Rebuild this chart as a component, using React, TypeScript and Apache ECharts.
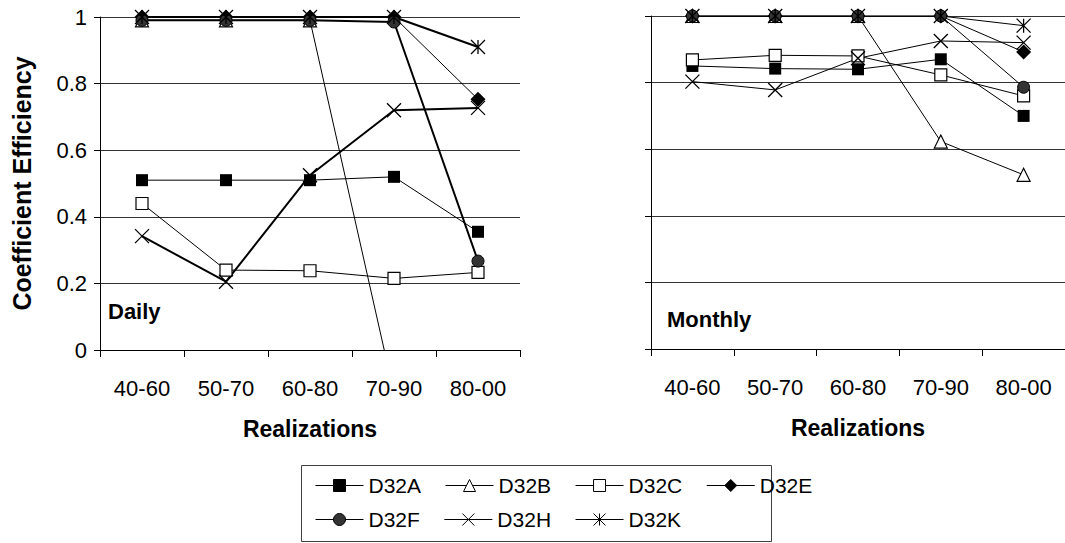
import React, { useEffect, useRef } from 'react';
import * as echarts from 'echarts';

// ---------- data ----------
const categories = ['40-60', '50-70', '60-80', '70-90', '80-00'];
const seriesNames = ['D32A', 'D32B', 'D32C', 'D32E', 'D32F', 'D32H', 'D32K'];

// Daily panel
const dailyD32A = [0.51, 0.51, 0.51, 0.52, 0.355];
const dailyD32B = [0.99, 0.99, 0.99, -0.13, null];
const dailyD32C = [0.44, 0.24, 0.238, 0.215, 0.233];
const dailyD32E = [1, 1, 1, 1, 0.753];
const dailyD32F = [0.99, 0.99, 0.99, 0.985, 0.267];
const dailyD32H = [0.342, 0.205, 0.525, 0.72, 0.727];
const dailyD32K = [1, 1, 1, 1, 0.91];

// Monthly panel
const monthlyD32A = [0.85, 0.842, 0.84, 0.87, 0.7];
const monthlyD32B = [1, 1, 1, 0.623, 0.523];
const monthlyD32C = [0.868, 0.882, 0.88, 0.823, 0.76];
const monthlyD32E = [1, 1, 1, 1, 0.892];
const monthlyD32F = [1, 1, 1, 1, 0.786];
const monthlyD32H = [0.803, 0.778, 0.873, 0.925, 0.92];
const monthlyD32K = [1, 1, 1, 1, 0.971];

const dailyData = [dailyD32A, dailyD32B, dailyD32C, dailyD32E, dailyD32F, dailyD32H, dailyD32K];
const monthlyData = [monthlyD32A, monthlyD32B, monthlyD32C, monthlyD32E, monthlyD32F, monthlyD32H, monthlyD32K];

// ---------- styles ----------
const FONT = "'Liberation Sans', Arial, Helvetica, sans-serif";
const X_PATH = 'path://M0,0L10,10M10,0L0,10';
const STAR_PATH = 'path://M0,0L10,10M10,0L0,10M5,0L5,10';

const markerStyles: Record<string, any> = {
  D32A: { symbol: 'rect', symbolSize: 12, itemStyle: { color: '#000', borderColor: '#000', borderWidth: 0 } },
  D32B: { symbol: 'triangle', symbolSize: 13, itemStyle: { color: '#fff', borderColor: '#000', borderWidth: 1.2 } },
  D32C: { symbol: 'rect', symbolSize: 12, itemStyle: { color: '#fff', borderColor: '#000', borderWidth: 1.2 } },
  D32E: { symbol: 'diamond', symbolSize: 15, itemStyle: { color: '#000', borderColor: '#000', borderWidth: 0 } },
  D32F: { symbol: 'circle', symbolSize: 12, itemStyle: { color: '#333', borderColor: '#000', borderWidth: 1 } },
  D32H: { symbol: X_PATH, symbolSize: 14, itemStyle: { color: '#000', borderColor: '#000', borderWidth: 1.3 } },
  D32K: { symbol: STAR_PATH, symbolSize: 14, itemStyle: { color: '#000', borderColor: '#000', borderWidth: 1.3 } },
};

const dailyLineWidth: Record<string, number> = { D32A: 1, D32B: 1, D32C: 1, D32E: 1, D32F: 2, D32H: 2, D32K: 2 };

function makeSeries(name: string, data: (number | null)[], idx: number, width: number) {
  const m = markerStyles[name];
  return {
    type: 'line',
    name,
    data,
    xAxisIndex: idx,
    yAxisIndex: idx,
    symbol: m.symbol,
    symbolSize: m.symbolSize,
    showAllSymbol: true,
    itemStyle: m.itemStyle,
    lineStyle: { color: '#000', width },
    emphasis: { disabled: true },
    clip: true,
    connectNulls: false,
  };
}

function xAxisFor(gridIndex: number) {
  return {
    type: 'category',
    gridIndex,
    data: categories,
    boundaryGap: true,
    axisLine: { show: true, lineStyle: { color: '#000', width: 1 } },
    axisTick: { show: true, length: 7, lineStyle: { color: '#000', width: 1 } },
    axisLabel: { color: '#000', fontSize: 22, fontFamily: FONT, margin: 27 },
    name: 'Realizations',
    nameLocation: 'middle',
    nameGap: 67,
    nameTextStyle: { color: '#000', fontSize: 23, fontWeight: 'bold', fontFamily: FONT },
    splitLine: { show: false },
  };
}

function yAxisFor(gridIndex: number, showLabels: boolean) {
  return {
    type: 'value',
    gridIndex,
    min: 0,
    max: 1,
    interval: 0.2,
    axisLine: { show: true, lineStyle: { color: '#000', width: 1 } },
    axisTick: { show: true, length: 6, lineStyle: { color: '#000', width: 1 } },
    axisLabel: { show: showLabels, color: '#000', fontSize: 22, fontFamily: FONT, margin: 13 },
    splitLine: { show: true, lineStyle: { color: '#333', width: 1 } },
    name: showLabels ? 'Coefficient Efficiency' : '',
    nameLocation: 'middle',
    nameGap: 66,
    nameTextStyle: { color: '#000', fontSize: 25, fontWeight: 'bold', fontFamily: FONT },
  };
}

const legendCommon = {
  orient: 'horizontal',
  itemWidth: 48,
  itemHeight: 15,
  itemGap: 24,
  padding: 0,
  selectedMode: false,
  textStyle: { color: '#000', fontSize: 21, fontFamily: FONT, width: 60 },
  lineStyle: { width: 1, color: '#000' },
  itemStyle: { borderWidth: 1 },
};

export default function App() {
  const ref = useRef<HTMLDivElement>(null);

  useEffect(() => {
    document.body.style.margin = '0';
    if (!ref.current) return;
    const chart = echarts.init(ref.current, null, { renderer: 'svg' });

    const series: any[] = [];
    seriesNames.forEach((n, i) => series.push(makeSeries(n, dailyData[i], 0, dailyLineWidth[n])));
    seriesNames.forEach((n, i) => series.push(makeSeries(n, monthlyData[i], 1, 1)));

    chart.setOption({
      animation: false,
      backgroundColor: '#fff',
      textStyle: { fontFamily: FONT },
      grid: [
        { left: 100, top: 17, width: 420, height: 333 },
        { left: 651, top: 16, width: 415, height: 333 },
      ],
      xAxis: [xAxisFor(0), xAxisFor(1)],
      yAxis: [yAxisFor(0, true), yAxisFor(1, false)],
      title: [
        { text: 'Daily', left: 108, top: 300, padding: 0, textStyle: { color: '#000', fontSize: 22, fontWeight: 'bold', fontFamily: FONT } },
        { text: 'Monthly', left: 667, top: 308, padding: 0, textStyle: { color: '#000', fontSize: 22, fontWeight: 'bold', fontFamily: FONT } },
      ],
      legend: [
        { ...legendCommon, data: seriesNames.slice(0, 4), left: 315, top: 475 },
        { ...legendCommon, data: seriesNames.slice(4), left: 315, top: 509 },
      ],
      graphic: [
        {
          type: 'rect',
          shape: { x: 301.5, y: 465.5, width: 470, height: 76 },
          style: { fill: 'none', stroke: '#404040', lineWidth: 1 },
          silent: true,
        },
      ],
      series,
    });

    return () => chart.dispose();
  }, []);

  return <div ref={ref} style={{ width: 1065, height: 543 }} />;
}
